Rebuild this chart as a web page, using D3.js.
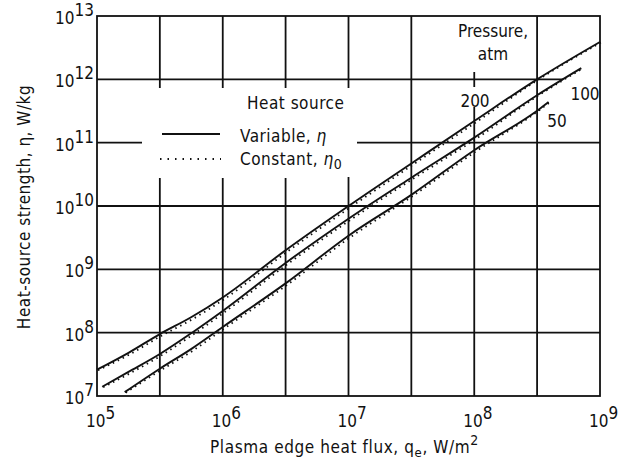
<!DOCTYPE html>
<html>
<head>
<meta charset="utf-8">
<script src="https://cdn.jsdelivr.net/npm/d3@7"></script>
<style>
  body { margin: 0; background: #fff; }
  svg text { font-family: "Liberation Sans Narrow", "DejaVu Sans Condensed", "Roboto", sans-serif; fill: #111; }
</style>
</head>
<body>
<svg id="chart" width="629" height="464"></svg>
<script>

// values (W/m2 -> W/kg)
var q_200 = [1e5, 1.78e5, 3.16e5, 5.6e5, 1e6, 3.16e6, 1e7, 3.16e7, 1e8, 3.16e8, 1e9]
var eta_200 = [2.6e7, 4.8e7, 9.5e7, 1.75e8, 3.6e8, 2.0e9, 1.0e10, 4.7e10, 2.2e11, 1.0e12, 3.9e12]
var eta0_200 = [2.6e7, 4.6e7, 9.0e7, 1.65e8, 3.4e8, 1.9e9, 9.5e9, 4.5e10, 2.1e11, 1.0e12, 3.9e12]

var q_100 = [1.1e5, 1.78e5, 3.16e5, 5.7e5, 1e6, 3.16e6, 1e7, 3.16e7, 1e8, 3.16e8, 7.1e8]
var eta_100 = [1.4e7, 2.4e7, 4.6e7, 1.0e8, 2.2e8, 1.26e9, 6.3e9, 2.8e10, 1.2e11, 5.6e11, 1.5e12]
var eta0_100 = [1.4e7, 2.3e7, 4.4e7, 0.95e8, 2.1e8, 1.2e9, 6.0e9, 2.7e10, 1.15e11, 5.6e11, 1.5e12]

var q_50 = [1.66e5, 3.16e5, 5.6e5, 1e6, 3.16e6, 1e7, 3.16e7, 1e8, 3.16e8, 3.9e8]
var eta_50 = [1.15e7, 2.7e7, 5.5e7, 1.23e8, 6.0e8, 3.4e9, 1.5e10, 7.6e10, 3.2e11, 4.4e11]
var eta0_50 = [1.15e7, 2.6e7, 5.2e7, 1.17e8, 5.7e8, 3.2e9, 1.45e10, 7.3e10, 3.2e11, 4.4e11]

var x_ticks = [1e5, 1e6, 1e7, 1e8, 1e9]
var x_grid = [3.16e5, 1e6, 3.16e6, 1e7, 3.16e7, 1e8, 3.16e8]
var y_ticks = [1e7, 1e8, 1e9, 1e10, 1e11, 1e12, 1e13]
var pressures = ["200", "100", "50"]


var svg = d3.select("#chart")

// scales
var x = d3.scaleLog().domain([1e5, 1e9]).range([97, 600])
var y = d3.scaleLog().domain([1e7, 1e13]).range([396, 16])

var ink = "#111"

// grid lines, with the gaps left for the legend and labels
var vgaps = { 3.16e5: [[88, 178]], 1e6: [[88, 178]], 3.16e6: [[88, 178]], 1e7: [[88, 177]],
              1e8: [[16, 72], [87, 107]] }
x_grid.forEach(function(v){
  var segs = [[16, 396]]
  ;(vgaps[v] || []).forEach(function(g){
    var out = []
    segs.forEach(function(s){
      if (g[1] <= s[0] || g[0] >= s[1]) { out.push(s); return }
      if (g[0] > s[0]) out.push([s[0], g[0]])
      if (g[1] < s[1]) out.push([g[1], s[1]])
    })
    segs = out
  })
  segs.forEach(function(s){
    svg.append("line")
      .attr("x1", x(v)).attr("x2", x(v))
      .attr("y1", s[0]).attr("y2", s[1])
      .attr("stroke", ink).attr("stroke-width", 1.8)
  })
})

var hsegs = { 1e8: [[97, 600]], 1e9: [[97, 600]], 1e10: [[97, 600]],
              1e11: [[97, 142], [357, 600]], 1e12: [[97, 563]] }
Object.keys(hsegs).forEach(function(k){
  hsegs[k].forEach(function(s){
    svg.append("line")
      .attr("x1", s[0]).attr("x2", s[1])
      .attr("y1", y(+k)).attr("y2", y(+k))
      .attr("stroke", ink).attr("stroke-width", 1.8)
  })
})

// frame
svg.append("rect")
  .attr("x", x(1e5)).attr("y", y(1e13))
  .attr("width", x(1e9) - x(1e5)).attr("height", y(1e7) - y(1e13))
  .attr("fill", "none").attr("stroke", ink).attr("stroke-width", 1.8)

// tick labels
svg.selectAll(".ylab").data(y_ticks).enter().append("text")
  .attr("class", "ylab")
  .attr("x", 94).attr("y", function(d){ return y(d) + 8 })
  .attr("text-anchor", "end").style("font-size", "17px")
  .each(function(d){
    var t = d3.select(this)
    t.append("tspan").text("10")
    t.append("tspan").attr("dy", -8).text(Math.round(Math.log10(d)))
  })

svg.selectAll(".xlab").data(x_ticks).enter().append("text")
  .attr("class", "xlab")
  .attr("x", function(d){ return x(d) - 11 }).attr("y", 427)
  .style("font-size", "17px")
  .each(function(d){
    var t = d3.select(this)
    t.append("tspan").text("10")
    t.append("tspan").attr("dy", -8).text(Math.round(Math.log10(d)))
  })

// axis titles
var xt = svg.append("text")
  .attr("x", 210).attr("y", 453)
  .style("font-size", "17px").style("letter-spacing", "0.6px")
xt.append("tspan").text("Plasma edge heat flux, q")
xt.append("tspan").attr("dy", 4).style("font-size", "13px").text("e")
xt.append("tspan").attr("dy", -4).text(", W/m")
xt.append("tspan").attr("dy", -8).style("font-size", "14px").text("2")

svg.append("text")
  .attr("transform", "translate(30, 207) rotate(-90)")
  .attr("text-anchor", "middle")
  .style("font-size", "17px").style("letter-spacing", "0.5px")
  .text("Heat-source strength, \u03b7, W/kg")

// curves
var line = d3.line()
  .x(function(d){ return x(d[0]) })
  .y(function(d){ return y(d[1]) })
  .curve(d3.curveMonotoneX)

var series = [
  { q: q_200, v: eta_200, c: eta0_200 },
  { q: q_100, v: eta_100, c: eta0_100 },
  { q: q_50, v: eta_50, c: eta0_50 }
]

series.forEach(function(s){
  svg.append("path")
    .attr("d", line(d3.zip(s.q, s.c)))
    .attr("transform", "translate(1, 0.5)")
    .attr("fill", "none").attr("stroke", ink)
    .attr("stroke-width", 1.8).attr("stroke-dasharray", "1.5,4")
  svg.append("path")
    .attr("d", line(d3.zip(s.q, s.v)))
    .attr("fill", "none").attr("stroke", ink).attr("stroke-width", 1.9)
})

// pressure labels
svg.append("text").attr("x", 493).attr("y", 37).attr("text-anchor", "middle")
  .style("font-size", "17px").text("Pressure,")
svg.append("text").attr("x", 493).attr("y", 60).attr("text-anchor", "middle")
  .style("font-size", "17px").text("atm")

var plabel_pos = [[475, 107], [585, 100], [557, 127]]
svg.selectAll(".plab").data(pressures).enter().append("text")
  .attr("class", "plab")
  .attr("x", function(d, i){ return plabel_pos[i][0] })
  .attr("y", function(d, i){ return plabel_pos[i][1] })
  .attr("text-anchor", "middle").style("font-size", "17px")
  .text(function(d){ return d })

// legend
svg.append("text").attr("x", 247).attr("y", 109)
  .style("font-size", "17px").style("letter-spacing", "0.5px").text("Heat source")

svg.append("line").attr("x1", 162).attr("x2", 220).attr("y1", 134).attr("y2", 134)
  .attr("stroke", ink).attr("stroke-width", 1.8)
svg.append("line").attr("x1", 160).attr("x2", 221).attr("y1", 159).attr("y2", 159)
  .attr("stroke", ink).attr("stroke-width", 1.8).attr("stroke-dasharray", "1.5,6")

var l1 = svg.append("text").attr("x", 240).attr("y", 142)
  .style("font-size", "17px").style("letter-spacing", "0.5px")
l1.append("tspan").text("Variable, ")
l1.append("tspan").style("font-style", "italic").text("\u03b7")

var l2 = svg.append("text").attr("x", 240).attr("y", 165)
  .style("font-size", "17px").style("letter-spacing", "0.5px")
l2.append("tspan").text("Constant, ")
l2.append("tspan").style("font-style", "italic").text("\u03b7")
l2.append("tspan").attr("dy", 4).style("font-size", "14px").text("0")

</script>
</body>
</html>
